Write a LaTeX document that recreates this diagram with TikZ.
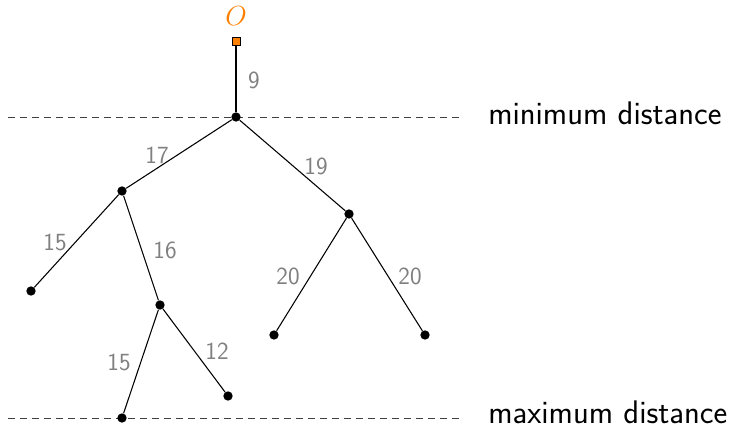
\documentclass[tikz,border=0pt]{standalone}
\usepackage{xcolor}
\definecolor{orng}{RGB}{255,128,0}
\definecolor{lblgray}{RGB}{128,128,128}
\begin{document}
\begin{tikzpicture}[x=0.75pt,y=-0.75pt,
  dot/.style={circle,fill=black,inner sep=0pt,minimum size=7pt},
  sq/.style={rectangle,draw=black,fill=orng,inner sep=0pt,minimum size=6pt,line width=0.6pt},
  edge/.style={draw=black,line width=0.8pt},
  lbl/.style={text=lblgray,font=\sffamily\fontsize{18.5}{22}\selectfont,inner sep=0pt},
  dist/.style={font=\sffamily\fontsize{24.5}{28}\selectfont,inner sep=0pt,anchor=base west},
  guide/.style={draw=black!75,dash pattern=on 5.5pt off 3.5pt,line width=0.7pt}]
\useasboundingbox (0,0) rectangle (732,427);
% guide lines
\coordinate (g1a) at (8,117);
\coordinate (g1b) at (462,117);
\coordinate (g2a) at (8,418);
\coordinate (g2b) at (462,418);
\draw[guide] (g1a) -- (g1b);
\draw[guide] (g2a) -- (g2b);
\node[dist] (mind) at (488,125) {minimum distance};
\node[dist] (maxd) at (488,424) {maximum distance};
% nodes
\node[sq] (o) at (236,41) {};
\node[text=orng,font=\fontsize{21}{24}\selectfont,inner sep=0pt] (olbl) at (236,16) {$O$};
\node[dot] (r) at (236,117) {};
\node[dot] (a) at (122,191) {};
\node[dot] (b) at (349,214) {};
\node[dot] (l1) at (31,291) {};
\node[dot] (c) at (160,305) {};
\node[dot] (d) at (274,335) {};
\node[dot] (e) at (425,335) {};
\node[dot] (f) at (122,418) {};
\node[dot] (g) at (228,396) {};
% edges
\draw[edge] (o) -- (r);
\draw[edge] (r) -- (a);
\draw[edge] (r) -- (b);
\draw[edge] (a) -- (l1);
\draw[edge] (a) -- (c);
\draw[edge] (b) -- (d);
\draw[edge] (b) -- (e);
\draw[edge] (c) -- (f);
\draw[edge] (c) -- (g);
% labels
\node[lbl] at (254,80) {9};
\node[lbl] at (157,155) {17};
\node[lbl] at (316,166) {19};
\node[lbl] at (55,242) {15};
\node[lbl] at (165,250) {16};
\node[lbl] at (288,276) {20};
\node[lbl] at (410,276) {20};
\node[lbl] at (119,362) {15};
\node[lbl] at (217,351) {12};
\end{tikzpicture}
\end{document}
